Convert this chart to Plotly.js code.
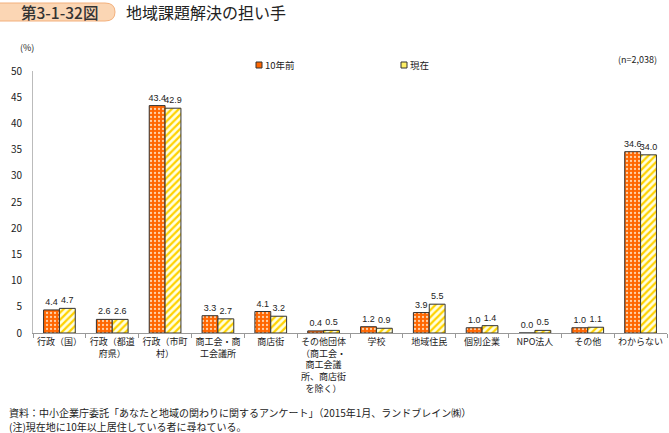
<!DOCTYPE html>
<html><head><meta charset="utf-8">
<script src="https://cdn.plot.ly/plotly-3.0.1.min.js"></script>
<style>html,body{margin:0;padding:0;background:#fff}#c{width:669px;height:433px}</style>
</head><body><div id="c"></div>
<script>
var categories = ["行政（国）","行政（都道<br>府県）","行政（市町<br>村）","商工会・商<br>工会議所","商店街","その他団体<br>（商工会・<br>商工会議<br>所、商店街<br>を除く）","学校","地域住民","個別企業","NPO法人","その他","わからない"];
var before10 = [4.4, 2.6, 43.4, 3.3, 4.1, 0.4, 1.2, 3.9, 1.0, 0.0, 1.0, 34.6];
var current = [4.7, 2.6, 42.9, 2.7, 3.2, 0.5, 0.9, 5.5, 1.4, 0.5, 1.1, 34.0];
var seriesNames = ["10年前", "現在"];
var yTicks = [0,5,10,15,20,25,30,35,40,45,50];

var F = "Noto Sans CJK JP, sans-serif";
var VF = "Liberation Sans Narrow, Arial Narrow, sans-serif";
var t1 = {
  type: 'bar', x: categories, y: before10, name: seriesNames[0], showlegend: false,
  marker: {color: '#FF6600', line: {color: '#333333', width: 1},
    pattern: {shape: '.', fgcolor: '#FFD2A8', bgcolor: '#FF6600', size: 4, solidity: 0.25}},
  texttemplate: '%{y:.1f}', textposition: 'outside', cliponaxis: false,
  constraintext: 'none', textfont: {family: VF, size: 9, color: '#222'}
};
var t2 = {
  type: 'bar', x: categories, y: current, name: seriesNames[1], showlegend: false,
  marker: {color: '#FFFFFF', line: {color: '#333333', width: 1},
    pattern: {shape: '/', fgcolor: '#FFD200', bgcolor: '#FFFFE0', size: 5, solidity: 0.45}},
  texttemplate: '%{y:.1f}', textposition: 'outside', cliponaxis: false,
  constraintext: 'none', textfont: {family: VF, size: 9, color: '#222'}
};
function pixAnn(xs, ys, text, size, anchor, extra) {
  var a = {xref: 'paper', yref: 'paper', x: 0, y: 1, xanchor: anchor || 'left', yanchor: 'middle',
    xshift: xs, yshift: ys, text: text, showarrow: false, font: {family: F, size: size, color: '#222'}};
  if (extra) for (var k in extra) a[k] = extra[k];
  return a;
}
var layout = {
  width: 669, height: 433,
  margin: {l: 33, r: 2, t: 71, b: 100},
  paper_bgcolor: '#fff', plot_bgcolor: '#fff',
  font: {family: F, size: 10, color: '#222'},
  barmode: 'group', bargap: 0.4, bargroupgap: 0,
  showlegend: false,
  xaxis: {type: 'category', showline: true, linecolor: '#999', linewidth: 1,
    ticks: 'outside', tickson: 'boundaries', ticklen: 4, tickcolor: '#999',
    tickfont: {family: F, size: 9}, showgrid: false, zeroline: false, tickangle: 0, automargin: false},
  yaxis: {range: [0, 50], tickvals: yTicks, showline: true, linecolor: '#bbb', linewidth: 1,
    ticks: '', showgrid: false, zeroline: false, tickfont: {family: F, size: 10}, ticklabelstandoff: 8, automargin: false},
  shapes: [
    {type: 'path', xref: 'paper', yref: 'paper', xsizemode: 'pixel', ysizemode: 'pixel', xanchor: 0, yanchor: 1,
     path: 'M -34,50 L 72,50 Q 82,50 82,59 Q 82,68 72,68 L -34,68 Z',
     fillcolor: '#FBD6B4', line: {color: '#F3B07C', width: 1}, layer: 'above'},
    {type: 'rect', xref: 'paper', yref: 'paper', xsizemode: 'pixel', ysizemode: 'pixel', xanchor: 0, yanchor: 1,
     x0: 223, x1: 229, y0: 3, y1: 9, fillcolor: '#FF6600', line: {color: '#333', width: 1}},
    {type: 'rect', xref: 'paper', yref: 'paper', xsizemode: 'pixel', ysizemode: 'pixel', xanchor: 0, yanchor: 1,
     x0: 368, x1: 374, y0: 3, y1: 9, fillcolor: '#FFF066', line: {color: '#333', width: 1}}
  ],
  annotations: [
    pixAnn(26, 59, '第3-1-32図', 15.5, 'center', {font: {family: F, size: 15.5, color: '#333', weight: 500}}),
    pixAnn(91, 59, '地域課題解決の担い手', 16),
    pixAnn(-15, 24, '(%)', 9),
    pixAnn(230, 6, seriesNames[0], 9.5),
    pixAnn(375, 6, seriesNames[1], 9.5),
    {xref: 'paper', yref: 'paper', x: 1, y: 1, xanchor: 'right', yanchor: 'middle',
     xshift: -8, yshift: 12, text: '(n=2,038)', showarrow: false, font: {family: F, size: 9}},
    {xref: 'paper', yref: 'paper', x: 0, y: 0, xanchor: 'left', yanchor: 'middle',
     xshift: -26, yshift: -79, text: '資料：中小企業庁委託「あなたと地域の関わりに関するアンケート」（2015年1月、ランドブレイン㈱）', showarrow: false, font: {family: F, size: 10}},
    {xref: 'paper', yref: 'paper', x: 0, y: 0, xanchor: 'left', yanchor: 'middle',
     xshift: -26, yshift: -93, text: '(注)現在地に10年以上居住している者に尋ねている。', showarrow: false, font: {family: F, size: 10}}
  ]
};
Plotly.newPlot('c', [t1, t2], layout, {displayModeBar: false, staticPlot: true});
</script></body></html>
